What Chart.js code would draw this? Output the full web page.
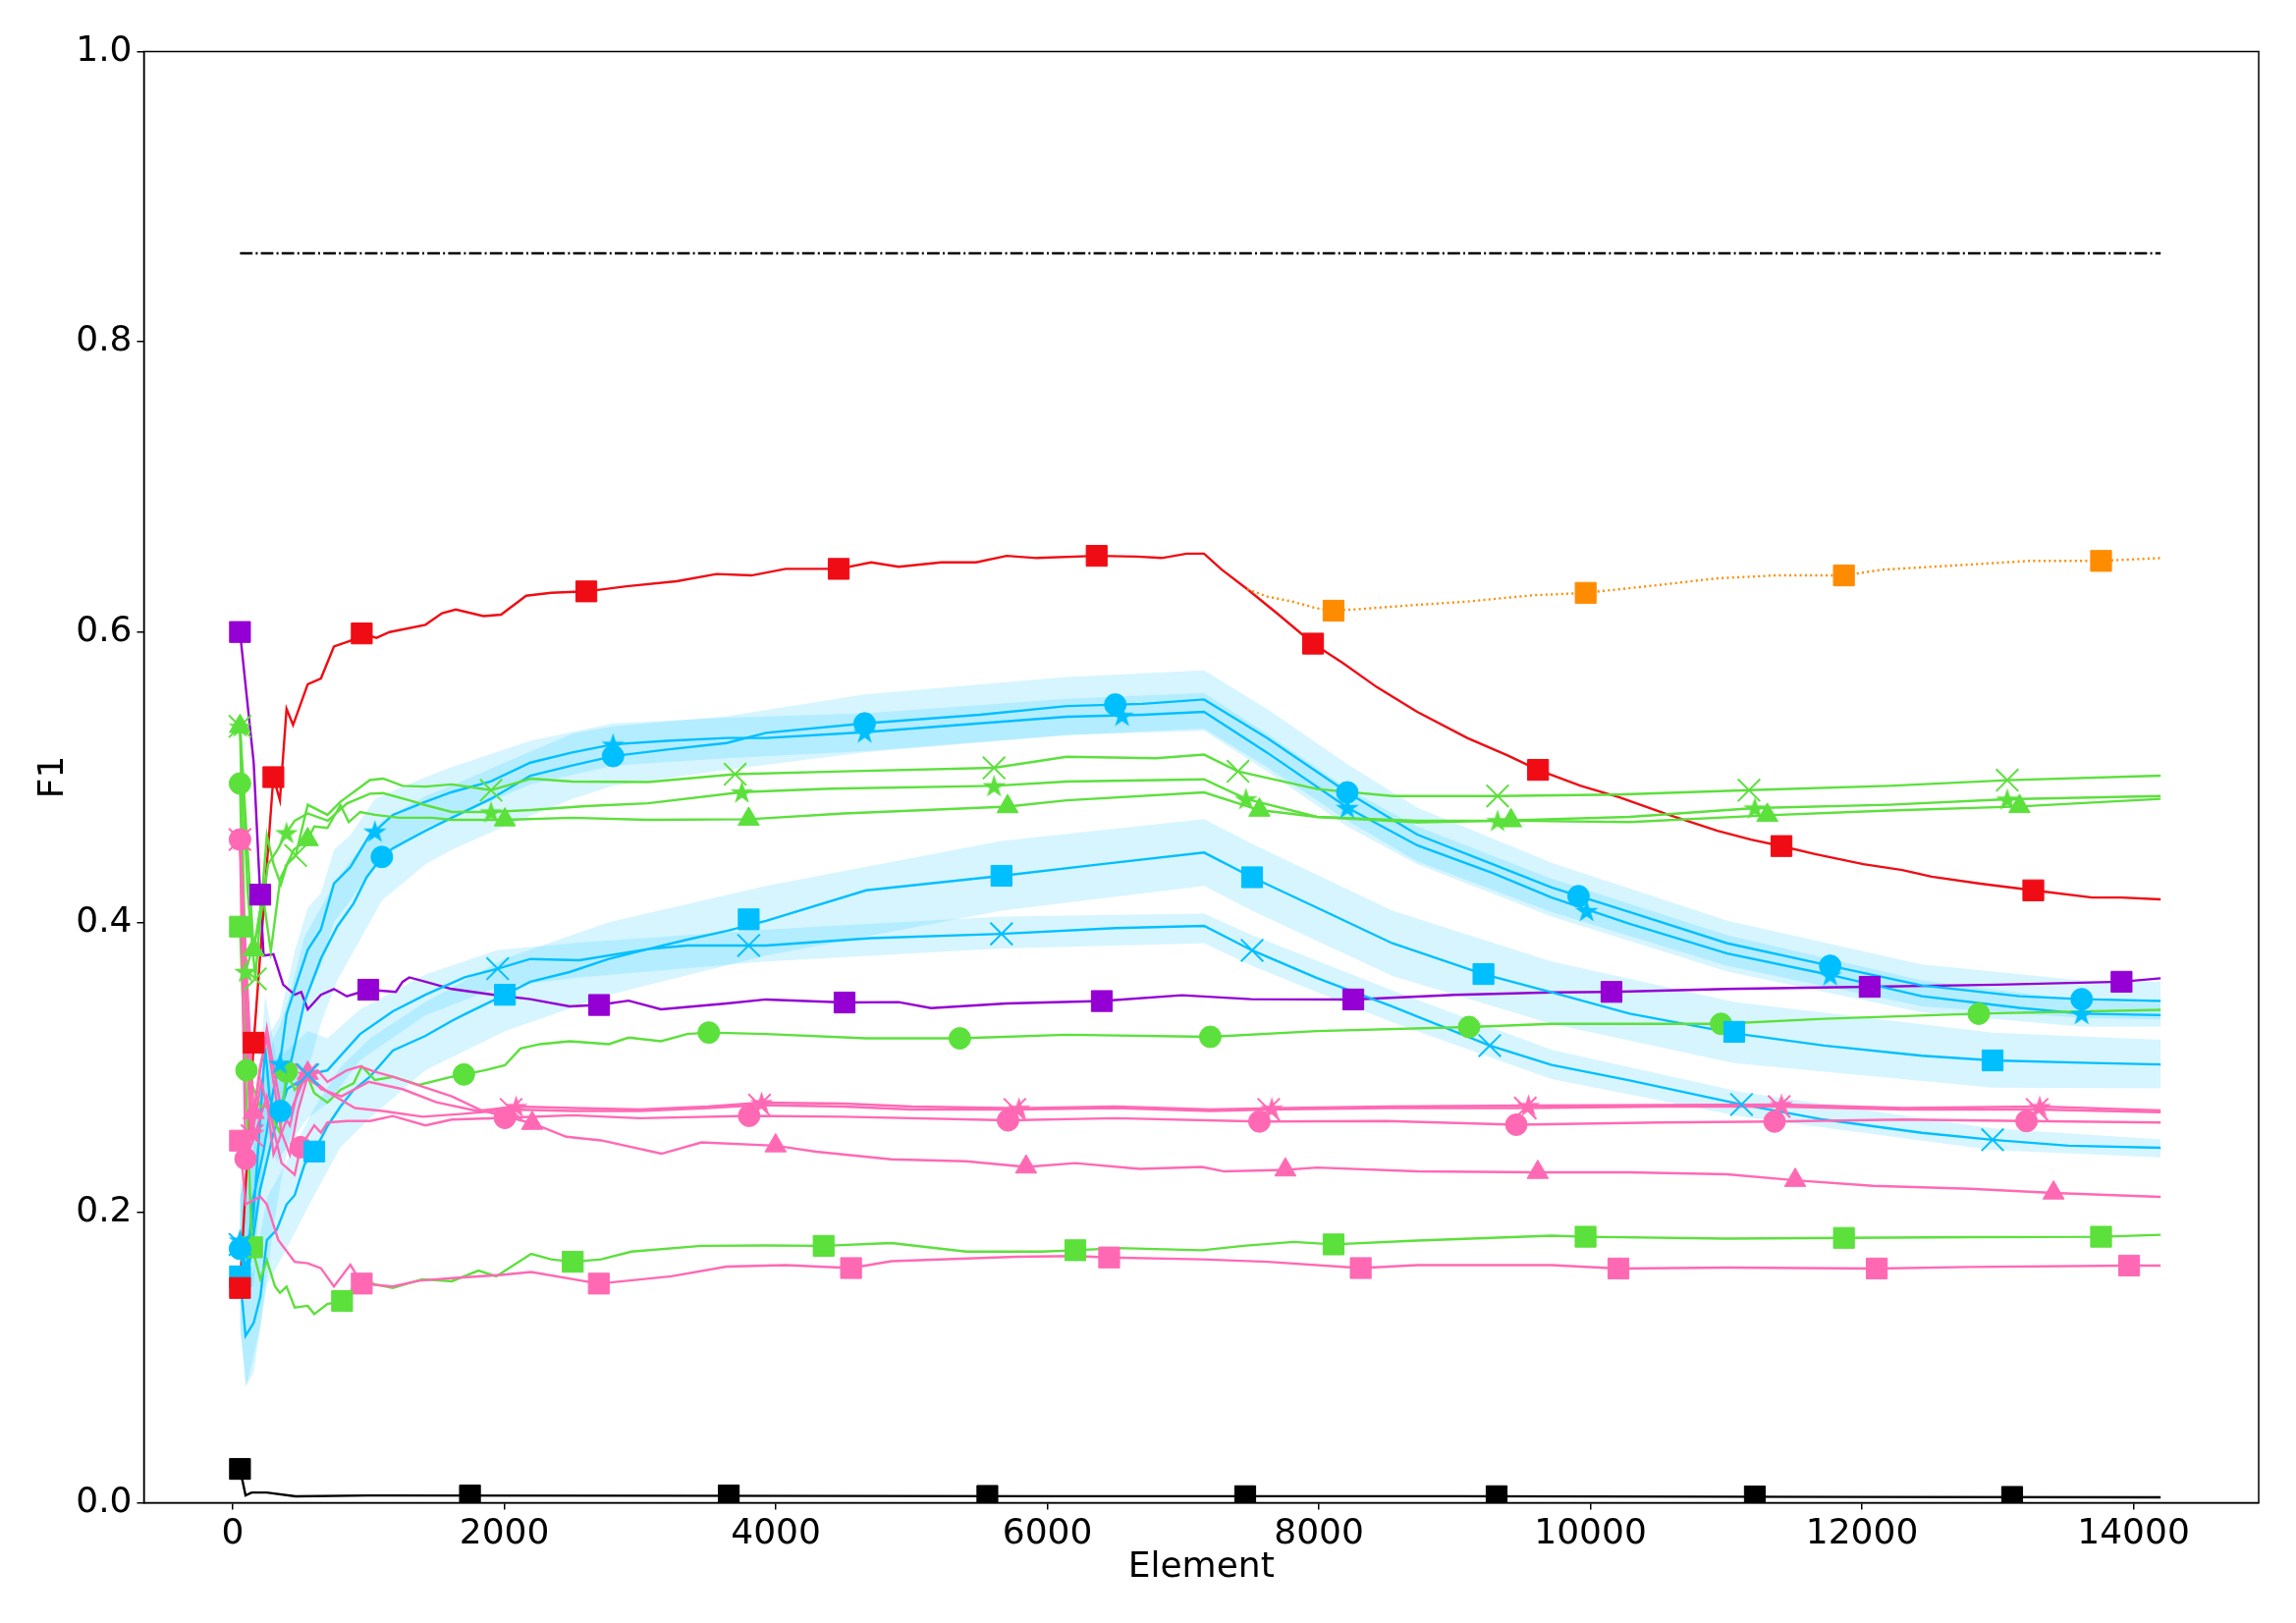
<!DOCTYPE html>
<html>
<head>
<meta charset="utf-8">
<script src="https://cdn.jsdelivr.net/npm/chart.js@4.4.1/dist/chart.umd.min.js"></script>
<style>
  html, body { margin: 0; padding: 0; background: #fff; overflow: hidden; }
  #wrap { width: 2338px; height: 1653px; }
</style>
</head>
<body>
<div id="wrap"><canvas id="f1Chart"></canvas></div>
<script>
// axis ticks
const xTicks = [0, 2000, 4000, 6000, 8000, 10000, 12000, 14000];
const yTicks = [0, 0.2, 0.4, 0.6, 0.8, 1.0];

// reference line
const refLine = [[53, 0.861], [14200, 0.861]];

// black
const blackLine = [[53,.0233],[94,.005],[139,.007],[250,.007],[463,.0044],[1000,.005],[3000,.0048],[6000,.0045],[9000,.0045],[12000,.004],[14200,.0037]];
const blackMarks = [[53,.0233],[1747,.005],[3653,.005],[5558,.0047],[7457,.0045],[9309,.0045],[11211,.0043],[13106,.004]];

// red / orange
const redLine = [[53,.148],[154,.317],[299,.5],[347,.484],[396,.547],[444,.536],[552,.564],[649,.568],[745,.59],[866,.594],[950,.599],[1058,.596],[1155,.6],[1419,.605],[1541,.613],[1643,.6155],[1846,.611],[1976,.612],[2161,.625],[2345,.627],[2604,.628],[2900,.6315],[3269,.635],[3563,.64],[3820,.639],[4072,.6435],[4463,.6435],[4702,.648],[4904,.645],[5219,.648],[5475,.648],[5700,.6525],[5921,.651],[6363,.6525],[6659,.652],[6842,.651],[7027,.654],[7154,.654],[7284,.643],[7472,.6296],[7690,.613],[7957,.592],[8171,.579],[8427,.562],[8724,.545],[9093,.527],[9390,.515],[9614,.505],[9929,.494],[10215,.486],[10576,.474],[10935,.463],[11183,.457],[11407,.4525],[11655,.447],[12010,.44],[12297,.436],[12513,.4314],[12872,.4266],[13262,.422],[13697,.417],[13912,.417],[14200,.4158]];
const redMarks = [[53,.148],[154,.317],[299,.5],[950,.599],[2604,.628],[4463,.6435],[6363,.6525],[7957,.592],[9614,.505],[11407,.4525],[13262,.422]];
const orangeLine = [[7472,.6296],[7617,.6245],[7802,.621],[7986,.6163],[8108,.6147],[8264,.6156],[8724,.6187],[9093,.621],[9570,.6253],[9965,.627],[10466,.632],[10934,.637],[11364,.639],[11867,.639],[12154,.643],[12800,.6465],[13232,.649],[13761,.649],[14200,.651]];
const orangeMarks = [[8108,.6147],[9965,.627],[11867,.639],[13761,.649]];

// purple
const purpleLine = [[53,.6],[154,.51],[202,.419],[227,.377],[299,.378],[371,.357],[456,.35],[504,.352],[552,.34],[649,.35],[745,.354],[840,.349],[998,.3535],[1201,.352],[1251,.359],[1300,.362],[1419,.359],[1613,.354],[1924,.35],[2192,.347],[2481,.342],[2698,.343],[2915,.346],[3154,.34],[3638,.344],[3928,.3468],[4506,.3447],[4904,.345],[5143,.3408],[5700,.344],[6401,.3457],[6991,.3497],[7500,.347],[8253,.3468],[9000,.35],[9714,.3517],[10155,.352],[11000,.354],[12057,.3555],[13000,.357],[13912,.359],[14200,.3614]];
const purpleMarks = [[53,.6],[202,.419],[998,.3535],[2698,.343],[4506,.3447],[6401,.3457],[8253,.3468],[10155,.352],[12057,.3555],[13912,.359]];

// blue, with bands [x, low, high]
const blueCircleLine = [[53,.175],[100,.15],[200,.215],[300,.255],[352,.27],[420,.3],[528,.345],[649,.375],[769,.397],[890,.413],[986,.431],[1098,.445],[1179,.451],[1419,.463],[1613,.472],[1900,.485],[2192,.501],[2500,.508],[2801,.5145],[3200,.519],[3638,.5235],[3928,.5305],[4654,.537],[5500,.543],[6142,.549],[6700,.5505],[7154,.5535],[7617,.527],[8209,.4895],[8724,.4604],[9279,.44],[9714,.424],[10288,.407],[11008,.3855],[11766,.37],[12441,.3565],[13160,.349],[13618,.347],[14200,.3457]];
const blueCircleMarks = [[53,.175],[352,.27],[1098,.445],[2801,.5145],[4654,.537],[6500,.55],[8209,.4895],[9912,.418],[11766,.37],[13618,.347]];
const blueCircleBand = [[53,.125,.225],[100,.08,.21],[200,.12,.28],[300,.19,.32],[352,.22,.33],[420,.25,.35],[528,.29,.39],[649,.33,.41],[769,.36,.43],[890,.38,.445],[1098,.415,.47],[1419,.44,.487],[1613,.45,.494],[2000,.466,.51],[2500,.485,.53],[2801,.494,.535],[3638,.505,.542],[4654,.517,.557],[6142,.529,.569],[7154,.5335,.5735],[7617,.507,.547],[8209,.47,.509],[8724,.442,.479],[9714,.407,.441],[11008,.37,.401],[12441,.342,.371],[13618,.334,.36],[14200,.333,.359]];
const blueStarLine = [[53,.181],[100,.16],[150,.21],[226,.242],[300,.285],[347,.3027],[396,.3366],[456,.354],[552,.381],[649,.395],[745,.4266],[866,.438],[1010,.4604],[1047,.4627],[1179,.474],[1419,.483],[1613,.4897],[1900,.497],[2192,.51],[2500,.517],[2801,.5226],[3200,.525],[3638,.527],[3928,.527],[4654,.531],[5500,.537],[6142,.5416],[6700,.543],[7154,.545],[7617,.517],[8209,.479],[8724,.453],[9279,.434],[9714,.417],[10288,.399],[11008,.3785],[11766,.3637],[12441,.349],[13160,.341],[13618,.337],[14200,.336]];
const blueStarMarks = [[53,.181],[347,.3027],[1047,.4627],[2801,.5226],[4654,.531],[6550,.5425],[8209,.479],[9972,.408],[11766,.3637],[13618,.337]];
const blueStarBand = [[53,.15,.21],[150,.18,.26],[250,.24,.32],[347,.27,.335],[456,.32,.38],[552,.35,.41],[649,.37,.42],[745,.4,.45],[866,.415,.46],[1047,.44,.485],[1419,.465,.5],[1613,.472,.507],[2192,.495,.525],[2801,.508,.537],[3638,.513,.541],[4654,.518,.544],[6142,.529,.554],[7154,.532,.558],[7617,.504,.53],[8209,.466,.492],[8724,.44,.466],[9714,.404,.43],[11008,.366,.391],[12441,.338,.36],[13618,.328,.346],[14200,.328,.344]];
const blueSquareLine = [[53,.156],[94,.115],[154,.124],[203,.142],[251,.181],[323,.188],[396,.2055],[456,.212],[528,.233],[600,.242],[700,.26],[793,.273],[890,.2845],[1010,.2935],[1179,.3116],[1419,.3217],[1613,.332],[1707,.3365],[2004,.35],[2192,.359],[2481,.3657],[2770,.3747],[3059,.3815],[3347,.388],[3638,.394],[3928,.401],[4665,.422],[5662,.432],[6400,.44],[7154,.448],[7508,.431],[7986,.41],[8541,.3855],[9212,.3643],[9714,.3517],[10288,.337],[11059,.3235],[11720,.315],[12441,.308],[12962,.3048],[13697,.303],[14200,.302]];
const blueSquareMarks = [[53,.156],[600,.242],[2004,.35],[3800,.402],[5662,.432],[7508,.431],[9212,.3643],[11059,.3245],[12962,.3048]];
const blueSquareBand = [[53,.12,.19],[94,.08,.15],[154,.09,.16],[251,.15,.21],[396,.175,.235],[600,.212,.272],[793,.245,.3],[1010,.265,.32],[1419,.298,.345],[2004,.325,.375],[2770,.35,.4],[3928,.377,.425],[5662,.408,.456],[7154,.425,.471],[7508,.408,.454],[8541,.363,.408],[9714,.33,.373],[11059,.303,.345],[12962,.286,.324],[14200,.2855,.319]];
const blueXLine = [[53,.178],[100,.15],[154,.2],[239,.314],[270,.28],[323,.262],[400,.285],[480,.29],[552,.295],[697,.298],[938,.323],[1179,.3386],[1419,.35],[1707,.362],[1951,.368],[2192,.3747],[2553,.3738],[3059,.3815],[3347,.384],[3928,.384],[4700,.389],[5662,.392],[6500,.396],[7154,.3975],[7508,.3806],[7986,.3616],[8541,.342],[9258,.315],[9714,.3017],[10288,.291],[11113,.2744],[11720,.264],[12441,.2549],[12962,.2501],[13521,.246],[14200,.2446]];
const blueXMarks = [[53,.178],[552,.295],[1951,.368],[3800,.384],[5662,.392],[7508,.3806],[9258,.315],[11113,.2744],[12962,.2501]];
const blueXBand = [[53,.14,.21],[154,.15,.25],[239,.26,.35],[323,.235,.305],[552,.265,.325],[697,.275,.32],[938,.305,.34],[1419,.336,.364],[1951,.355,.381],[2553,.362,.386],[3928,.373,.395],[5662,.382,.404],[7154,.3855,.406],[7508,.37,.391],[8541,.331,.353],[9714,.292,.312],[11113,.266,.283],[12962,.243,.258],[14200,.238,.2504]];

// green
const greenXLine = [[53,.535],[110,.42],[166,.361],[251,.46],[300,.44],[354,.426],[400,.44],[463,.446],[552,.481],[697,.474],[793,.483],[1010,.498],[1107,.499],[1251,.494],[1419,.4935],[1613,.495],[1902,.491],[2197,.499],[2500,.497],[3059,.4966],[3700,.502],[4500,.504],[5607,.5064],[6142,.514],[6800,.513],[7154,.5155],[7404,.504],[7986,.4918],[8541,.487],[9316,.487],[10200,.488],[11168,.491],[12200,.494],[13070,.4979],[14200,.501]];
const greenXMarks = [[53,.535],[166,.361],[463,.446],[1902,.491],[3700,.502],[5607,.5064],[7404,.504],[9316,.487],[11168,.491],[13070,.4979]];
const greenStarLine = [[53,.535],[94,.366],[200,.4],[260,.44],[330,.45],[396,.4617],[456,.47],[552,.475],[700,.47],[840,.4818],[1010,.4886],[1107,.489],[1300,.484],[1419,.4807],[1613,.476],[1902,.476],[2192,.4773],[2600,.48],[3059,.482],[3750,.4897],[4400,.492],[5607,.494],[6142,.497],[7154,.4985],[7463,.485],[7986,.4726],[8724,.47],[9316,.47],[10288,.4726],[11211,.4787],[12200,.481],[13070,.4848],[14200,.487]];
const greenStarMarks = [[53,.535],[94,.366],[396,.4617],[1902,.476],[3750,.4897],[5607,.494],[7463,.485],[9316,.47],[11211,.4787],[13070,.4848]];
const greenTriLine = [[53,.535],[154,.381],[220,.42],[280,.38],[350,.43],[450,.45],[552,.457],[600,.466],[697,.465],[793,.4807],[854,.469],[938,.476],[1047,.474],[1227,.472],[1468,.472],[1613,.4706],[2004,.4706],[2500,.472],[3059,.4706],[3800,.471],[4500,.475],[5707,.4797],[6142,.484],[7154,.4895],[7562,.4773],[7986,.4726],[8724,.4689],[9415,.47],[10288,.469],[11303,.4737],[12200,.477],[13160,.4798],[14200,.485]];
const greenTriMarks = [[53,.535],[154,.381],[552,.457],[2004,.4706],[3800,.471],[5707,.4797],[7562,.4773],[9415,.47],[11303,.4737],[13160,.4798]];
const greenCircleLine = [[53,.4956],[101,.298],[203,.273],[251,.273],[347,.255],[396,.297],[456,.2845],[552,.2935],[600,.2824],[697,.2757],[793,.2845],[890,.289],[950,.3007],[1047,.2913],[1179,.2935],[1372,.2879],[1613,.2935],[1702,.2951],[1854,.298],[2004,.3014],[2119,.313],[2264,.316],[2481,.318],[2770,.316],[2915,.3205],[3154,.318],[3347,.323],[3506,.324],[3928,.323],[4665,.32],[5355,.32],[6142,.3225],[7200,.321],[7986,.325],[9106,.3278],[9714,.33],[10962,.33],[11720,.3335],[12860,.337],[14200,.3396]];
const greenCircleMarks = [[53,.4956],[101,.298],[396,.297],[1702,.2951],[3506,.324],[5355,.32],[7200,.321],[9106,.3278],[10962,.33],[12860,.337]];
const greenSquareLine = [[53,.397],[142,.176],[203,.154],[251,.167],[311,.149],[347,.1446],[396,.149],[456,.1345],[552,.1357],[600,.13],[697,.137],[805,.139],[950,.1548],[1047,.1505],[1179,.148],[1396,.154],[1613,.1526],[1810,.16],[1940,.156],[2198,.1715],[2345,.1677],[2504,.166],[2712,.1677],[2936,.173],[3452,.177],[3928,.1773],[4352,.177],[4850,.179],[5403,.173],[5957,.173],[6206,.174],[6520,.1755],[7139,.174],[7442,.177],[7812,.1797],[8108,.178],[8724,.1806],[9714,.184],[9964,.1833],[11000,.182],[11867,.1825],[12800,.183],[13761,.1833],[14200,.1846]];
const greenSquareMarks = [[53,.397],[142,.176],[805,.139],[2504,.166],[4352,.177],[6206,.174],[8108,.178],[9964,.1833],[11867,.1825],[13761,.1833]];

// pink
const pinkStarLine = [[53,.457],[130,.25],[200,.3],[251,.32],[300,.29],[359,.255],[420,.24],[480,.27],[555,.295],[650,.285],[800,.28],[1000,.29],[1250,.285],[1500,.276],[1800,.27],[2087,.273],[2500,.272],[3000,.271],[3500,.273],[3895,.2757],[4500,.275],[5000,.273],[5791,.2718],[6500,.273],[7200,.271],[7653,.2718],[8500,.273],[9544,.2737],[10500,.274],[11407,.2744],[12300,.272],[13309,.273],[14200,.2704]];
const pinkStarMarks = [[53,.457],[150,.255],[555,.295],[2087,.273],[3895,.2757],[5791,.2718],[7653,.2718],[9544,.2737],[11407,.2744],[13309,.273]];
const pinkXLine = [[53,.457],[142,.253],[210,.29],[260,.27],[300,.24],[380,.26],[540,.295],[700,.283],[900,.272],[1100,.27],[1400,.266],[1700,.268],[2050,.271],[2500,.27],[3000,.27],[3500,.272],[3880,.274],[4500,.273],[5000,.271],[5760,.271],[6500,.272],[7200,.27],[7630,.271],[8500,.272],[9520,.272],[10500,.273],[11390,.273],[12300,.271],[13290,.271],[14200,.2691]];
const pinkXMarks = [[53,.457],[142,.253],[540,.295],[2050,.271],[3880,.274],[5760,.271],[7630,.271],[9520,.272],[11390,.273],[13290,.271]];
const pinkCircleLine = [[53,.457],[94,.237],[150,.25],[251,.28],[311,.253],[359,.234],[456,.226],[499,.245],[600,.26],[649,.255],[697,.262],[840,.263],[1010,.263],[1179,.2665],[1419,.26],[1613,.264],[2004,.2652],[2500,.267],[3000,.265],[3803,.2666],[4500,.266],[5710,.2635],[6500,.265],[7562,.2627],[8500,.263],[9454,.2605],[10500,.262],[11356,.2627],[12300,.264],[13212,.263],[14200,.262]];
const pinkCircleMarks = [[53,.457],[94,.237],[499,.245],[2004,.2652],[3803,.2666],[5710,.2635],[7562,.2627],[9454,.2605],[11356,.2627],[13212,.263]];
const pinkTriLine = [[53,.457],[154,.269],[251,.327],[300,.3],[359,.27],[420,.26],[480,.285],[552,.296],[624,.298],[697,.29],[840,.298],[938,.3007],[1047,.297],[1179,.2935],[1423,.286],[1613,.28],[1830,.2704],[2205,.2615],[2456,.2522],[2712,.2497],[3157,.2405],[3452,.2483],[3998,.246],[4297,.2419],[4850,.2366],[5403,.2353],[5843,.2314],[6206,.234],[6680,.23],[7139,.2314],[7304,.2283],[7753,.2294],[7986,.231],[8724,.2283],[9612,.2277],[10288,.2277],[11008,.2263],[11508,.2222],[12080,.2184],[12800,.2163],[13411,.2135],[14200,.2108]];
const pinkTriMarks = [[154,.269],[552,.296],[2205,.2615],[3998,.246],[5843,.2314],[7753,.2294],[9612,.2277],[11508,.2222],[13411,.2135]];
const pinkSquareLine = [[53,.2495],[94,.2056],[203,.211],[251,.2056],[335,.181],[456,.166],[552,.165],[649,.1616],[745,.149],[866,.164],[950,.151],[1179,.149],[1372,.153],[1613,.1548],[1975,.157],[2198,.159],[2696,.151],[3230,.156],[3637,.1627],[4072,.1637],[4554,.1617],[4850,.1664],[5767,.1695],[6206,.17],[6455,.169],[7139,.1677],[7622,.166],[8308,.1617],[8724,.1637],[9714,.1637],[10206,.1614],[11008,.162],[12109,.1614],[12800,.1625],[13968,.1634],[14200,.1634]];
const pinkSquareMarks = [[53,.2495],[950,.151],[2696,.151],[4554,.1617],[6455,.169],[8308,.1617],[10206,.1614],[12109,.1614],[13968,.1634]];

// colours
const BLACK = '#000000', RED = '#f00c14', ORANGE = '#ff8c00', PURPLE = '#9400d3';
const BLUE = '#00bfff', GREEN = '#5ce03c', PINK = '#ff69b4';
const BAND = 'rgba(0, 191, 255, 0.16)';

function starCanvas(color, r) {
  const c = document.createElement('canvas');
  const s = Math.ceil(r * 2 + 2);
  c.width = s; c.height = s;
  const g = c.getContext('2d');
  g.fillStyle = color;
  g.beginPath();
  for (let i = 0; i < 10; i++) {
    const a = -Math.PI / 2 + i * Math.PI / 5;
    const rr = i % 2 ? r * 0.382 : r;
    const px = s / 2 + rr * Math.cos(a), py = s / 2 + 1 + rr * Math.sin(a);
    if (i === 0) g.moveTo(px, py); else g.lineTo(px, py);
  }
  g.closePath();
  g.fill();
  return c;
}

const MARKERS = {
  square: { style: 'rect', radius: 15, bw: 1 },
  circle: { style: 'circle', radius: 11, bw: 1 },
  triangle: { style: 'triangle', radius: 12.5, bw: 1 },
  x: { style: 'crossRot', radius: 16, bw: 2 },
  star: { style: 'star', radius: 12.5, bw: 0 }
};

const bands = [blueCircleBand, blueStarBand, blueSquareBand, blueXBand];

const series = [
  { line: refLine, color: BLACK, dash: [12.8, 3.2, 2, 3.2] },
  { line: blackLine, marks: blackMarks, color: BLACK, marker: 'square' },
  { line: pinkSquareLine, marks: pinkSquareMarks, color: PINK, marker: 'square' },
  { line: pinkTriLine, marks: pinkTriMarks, color: PINK, marker: 'triangle' },
  { line: pinkCircleLine, marks: pinkCircleMarks, color: PINK, marker: 'circle' },
  { line: pinkXLine, marks: pinkXMarks, color: PINK, marker: 'x' },
  { line: pinkStarLine, marks: pinkStarMarks, color: PINK, marker: 'star' },
  { line: greenSquareLine, marks: greenSquareMarks, color: GREEN, marker: 'square' },
  { line: greenCircleLine, marks: greenCircleMarks, color: GREEN, marker: 'circle' },
  { line: greenTriLine, marks: greenTriMarks, color: GREEN, marker: 'triangle' },
  { line: greenStarLine, marks: greenStarMarks, color: GREEN, marker: 'star' },
  { line: greenXLine, marks: greenXMarks, color: GREEN, marker: 'x' },
  { line: blueXLine, marks: blueXMarks, color: BLUE, marker: 'x' },
  { line: blueSquareLine, marks: blueSquareMarks, color: BLUE, marker: 'square' },
  { line: blueStarLine, marks: blueStarMarks, color: BLUE, marker: 'star' },
  { line: blueCircleLine, marks: blueCircleMarks, color: BLUE, marker: 'circle' },
  { line: purpleLine, marks: purpleMarks, color: PURPLE, marker: 'square' },
  { line: orangeLine, marks: orangeMarks, color: ORANGE, marker: 'square', dash: [2, 3.3] },
  { line: redLine, marks: redMarks, color: RED, marker: 'square' }
];

const toXY = arr => arr.map(p => ({ x: p[0], y: p[1] }));

const datasets = [];
bands.forEach(function(b) {
  datasets.push({ data: b.map(p => ({ x: p[0], y: p[2] })), borderWidth: 0, borderColor: 'transparent',
    pointRadius: 0, fill: false, order: 30 });
  datasets.push({ data: b.map(p => ({ x: p[0], y: p[1] })), borderWidth: 0, borderColor: 'transparent',
    pointRadius: 0, fill: '-1', backgroundColor: BAND, order: 30 });
});

series.forEach(function(s, i) {
  datasets.push({
    data: toXY(s.line), borderColor: s.color, borderWidth: 2.4, borderDash: s.dash || [],
    pointRadius: 0, fill: false, tension: 0, order: 20
  });
  if (s.marks) {
    const m = MARKERS[s.marker];
    datasets.push({
      data: toXY(s.marks), showLine: false, fill: false,
      pointStyle: s.marker === 'star' ? starCanvas(s.color, m.radius) : m.style,
      pointRadius: m.radius, pointBackgroundColor: s.color, pointBorderColor: s.color,
      pointBorderWidth: m.bw, order: 10 - i * 0.01
    });
  }
});

const framePlugin = {
  id: 'frame',
  afterDatasetsDraw(chart) {
    const { ctx, chartArea: a } = chart;
    ctx.save();
    ctx.strokeStyle = '#000';
    ctx.lineWidth = 1.5;
    ctx.strokeRect(a.left, a.top, a.right - a.left, a.bottom - a.top);
    ctx.restore();
  }
};

Chart.defaults.font.family = 'DejaVu Sans';
Chart.defaults.color = '#000';

new Chart(document.getElementById('f1Chart'), {
  type: 'line',
  data: { datasets: datasets },
  options: {
    responsive: true,
    maintainAspectRatio: false,
    devicePixelRatio: 1,
    animation: false,
    layout: { padding: { top: 52.5, right: 38, left: 0, bottom: 0 } },
    plugins: { legend: { display: false }, tooltip: { enabled: false } },
    scales: {
      x: {
        type: 'linear', min: -655, max: 14922,
        afterBuildTicks: s => { s.ticks = xTicks.map(v => ({ value: v })); },
        afterFit: s => { s.height = 122.5; },
        ticks: { font: { size: 36 }, color: '#000', padding: 4, maxRotation: 0, autoSkip: false,
          callback: v => String(v) },
        grid: { display: true, drawOnChartArea: false, drawTicks: true, tickLength: 7, color: '#000', lineWidth: 1.5 },
        border: { display: true, color: '#000', width: 1.5 },
        title: { display: true, text: 'Element', font: { size: 36 }, color: '#000', padding: { top: 0, bottom: 35 } }
      },
      y: {
        type: 'linear', min: 0, max: 1,
        afterBuildTicks: s => { s.ticks = yTicks.map(v => ({ value: v })); },
        afterFit: s => { s.width = 146.5; },
        ticks: { font: { size: 36 }, color: '#000', padding: 5, autoSkip: false,
          callback: v => v.toFixed(1) },
        grid: { display: true, drawOnChartArea: false, drawTicks: true, tickLength: 7, color: '#000', lineWidth: 1.5 },
        border: { display: true, color: '#000', width: 1.5 },
        title: { display: true, text: 'F1', font: { size: 36 }, color: '#000', padding: { top: 33, bottom: 0 } }
      }
    }
  },
  plugins: [framePlugin]
});
</script>
</body>
</html>
